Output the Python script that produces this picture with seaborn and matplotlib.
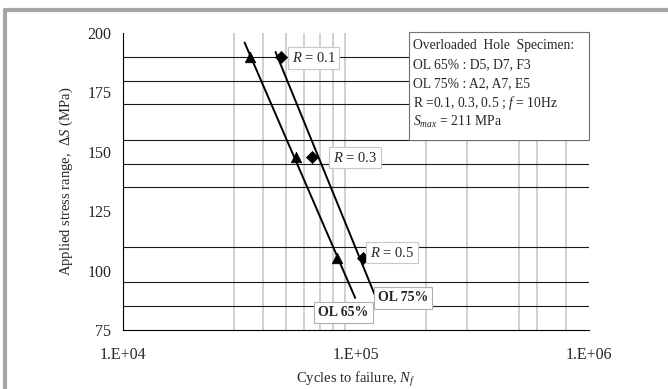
import numpy as np
import pandas as pd
import matplotlib
matplotlib.use("Agg")
import matplotlib.pyplot as plt
from matplotlib.patches import Rectangle
from matplotlib.lines import Line2D
from matplotlib.ticker import FixedLocator, NullFormatter
import seaborn as sns

# stress ranges (MPa) for R = 0.1, 0.3, 0.5
s_levels = [189.9, 147.7, 105.5]
# cycles to failure
n_ol65 = [3.51e4, 5.52e4, 8.28e4]
n_ol75 = [4.76e4, 6.47e4, 1.07e5]
# stress span over which each fitted line is drawn
span_ol65 = [196.0, 88.5]
span_ol75 = [192.0, 89.5]

r_labels = ["0.1", "0.3", "0.5"]
x_ticks = [1e4, 1e5, 1e6]
x_ticklabels = ["1.E+04", "1.E+05", "1.E+06"]
y_ticks = [75, 100, 125, 150, 175, 200]
# reference lines in the original sheet
h_lines = [190, 180, 170, 155, 145, 135, 110, 95, 85]
v_lines = [3e4, 4e4, 5e4, 6e4, 7e4, 8e4, 9e4, 2e5, 3e5, 5e5, 6e5, 8e5]

sns.set_style("white")
plt.rcParams['font.family'] = ['Liberation Serif', 'DejaVu Serif']
plt.rcParams['mathtext.fontset'] = 'custom'
plt.rcParams['mathtext.rm'] = 'Liberation Serif'
plt.rcParams['mathtext.it'] = 'Liberation Serif:italic'
plt.rcParams['mathtext.bf'] = 'Liberation Serif:bold'

fig = plt.figure(figsize=(6.68, 3.89), dpi=100)
ax = fig.add_axes([123/668, 1-330/389, 466/668, 297/389])

# frame around the chart area
fig.add_artist(Line2D([5/668, 5/668], [0, 1-9.5/389], color='#a4a4a4', lw=3, transform=fig.transFigure))
fig.add_artist(Line2D([5/668, 1], [1-9.5/389, 1-9.5/389], color='#a4a4a4', lw=3, transform=fig.transFigure))

for v in v_lines:
    ax.axvline(v, color='#c8c8c8', lw=1.2, zorder=1)
for h in h_lines:
    ax.axhline(h, color='#1a1a1a', lw=0.8, zorder=1)

# S-N fits: log N linear in S
def fit_line(n, s, span):
    c = np.polyfit(s, np.log10(n), 1)
    ss = np.array(span)
    return pd.DataFrame({"N": 10**np.polyval(c, ss), "S": ss})

for n, span in [(n_ol65, span_ol65), (n_ol75, span_ol75)]:
    sns.lineplot(data=fit_line(n, s_levels, span), x="N", y="S", sort=False,
                 estimator=None, color='black', lw=1.4, ax=ax, zorder=3)

sns.scatterplot(x=n_ol65, y=s_levels, marker="^", color='black', s=58,
                edgecolor='black', linewidth=0.5, legend=False, ax=ax, zorder=4)
sns.scatterplot(x=n_ol75, y=s_levels, marker="D", color='black', s=38,
                edgecolor='black', linewidth=0.5, legend=False, ax=ax, zorder=4)

ax.set_xscale('log')
ax.set_xlim(1e4, 1e6)
ax.set_ylim(75, 200)

ax.xaxis.set_major_locator(FixedLocator(x_ticks))
ax.set_xticklabels(x_ticklabels)
minors = [m * 10**k for k in (4, 5) for m in range(2, 10)]
ax.xaxis.set_minor_locator(FixedLocator(minors))
ax.xaxis.set_minor_formatter(NullFormatter())
ax.set_yticks(y_ticks)
ax.yaxis.set_minor_locator(FixedLocator(np.arange(75, 201, 5)))

for sp in ['top', 'right']:
    ax.spines[sp].set_visible(False)
for sp in ['left', 'bottom']:
    ax.spines[sp].set_color('black')
    ax.spines[sp].set_linewidth(0.8)

ax.tick_params(axis='both', which='major', direction='inout', length=7, width=0.8,
               labelsize=11.5, color='black')
ax.tick_params(axis='both', which='minor', direction='in', length=3.5, width=0.8, color='black')
ax.tick_params(axis='x', which='major', pad=9)
ax.tick_params(axis='y', which='major', pad=5)

ax.set_xlabel("Cycles to failure, $N_f$", fontsize=10.5, labelpad=5)
ax.set_ylabel("Applied stress range,  $ΔS$ (MPa)", fontsize=10.5, labelpad=9)

# R labels
r_pos = [(5.3e4, 189.5), (7.95e4, 147.5), (1.15e5, 107.5)]
for (x, y), r in zip(r_pos, r_labels):
    ax.text(x, y, "$R$ = " + r, fontsize=10.5, ha='left', va='center', zorder=6,
            bbox=dict(boxstyle='square,pad=0.25', fc='white', ec='#c8c8c8', lw=0.8))

ax.text(1.24e5, 88.5, "OL 75%", fontsize=10, fontweight='bold', ha='left', va='center', zorder=6,
        bbox=dict(boxstyle='square,pad=0.3', fc='white', ec='#b0b0b0', lw=0.8))
ax.text(6.9e4, 82.3, "OL 65%", fontsize=10, fontweight='bold', ha='left', va='center', zorder=6,
        bbox=dict(boxstyle='square,pad=0.3', fc='white', ec='#b0b0b0', lw=0.8))

# info box
box = Rectangle((0.614, 0.640), 0.386, 0.364, transform=ax.transAxes, fc='white',
                ec='#707070', lw=0.8, zorder=7, clip_on=False)
ax.add_patch(box)
info = ["Overloaded  Hole  Specimen:",
        "OL 65% : D5, D7, F3",
        "OL 75% : A2, A7, E5",
        "R =0.1, 0.3, 0.5 ; $f$ = 10Hz",
        "$S_{max}$ = 211 MPa"]
for i, line in enumerate(info):
    py = 45 + i * 19.2
    ax.text(0.622, (330 - py) / 297, line, transform=ax.transAxes, fontsize=9.8,
            ha='left', va='center', zorder=8)

fig.savefig("out.png", dpi=100, facecolor='white')
